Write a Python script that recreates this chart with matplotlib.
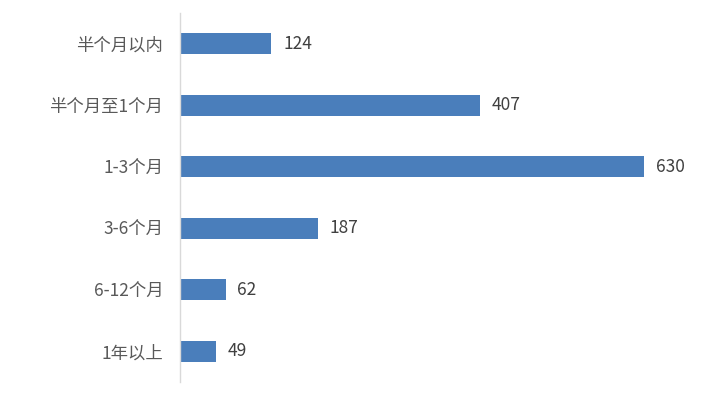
import matplotlib
matplotlib.use("Agg")
import matplotlib.pyplot as plt

plt.rcParams['font.family'] = ['Noto Sans CJK SC', 'DejaVu Sans']

categories = ["半个月以内", "半个月至1个月", "1-3个月", "3-6个月", "6-12个月", "1年以上"]
values = [124, 407, 630, 187, 62, 49]

fig = plt.figure(figsize=(7.28, 4.18), dpi=100)
ax = fig.add_axes([0.2473, 0.0861, 0.9555 - 0.2473, 0.969 - 0.0861])

ypos = list(range(len(categories)))[::-1]
ax.barh(ypos, values, height=0.34, color="#4a7ebb")
for y, v in zip(ypos, values):
    ax.text(v + 16, y, str(v), va="center", ha="left", fontsize=12.5, color="#404040")

ax.set_yticks(ypos)
ax.set_yticklabels(categories, fontsize=12.5, color="#595959")
ax.set_ylim(-0.5, 5.5)
ax.set_xlim(0, 700)
ax.set_xticks([])
ax.tick_params(axis='y', length=0, pad=12)
for s in ["top", "right", "bottom"]:
    ax.spines[s].set_visible(False)
ax.spines["left"].set_color("#d9d9d9")
ax.spines["left"].set_linewidth(1.0)

fig.savefig("out.png", dpi=100)
